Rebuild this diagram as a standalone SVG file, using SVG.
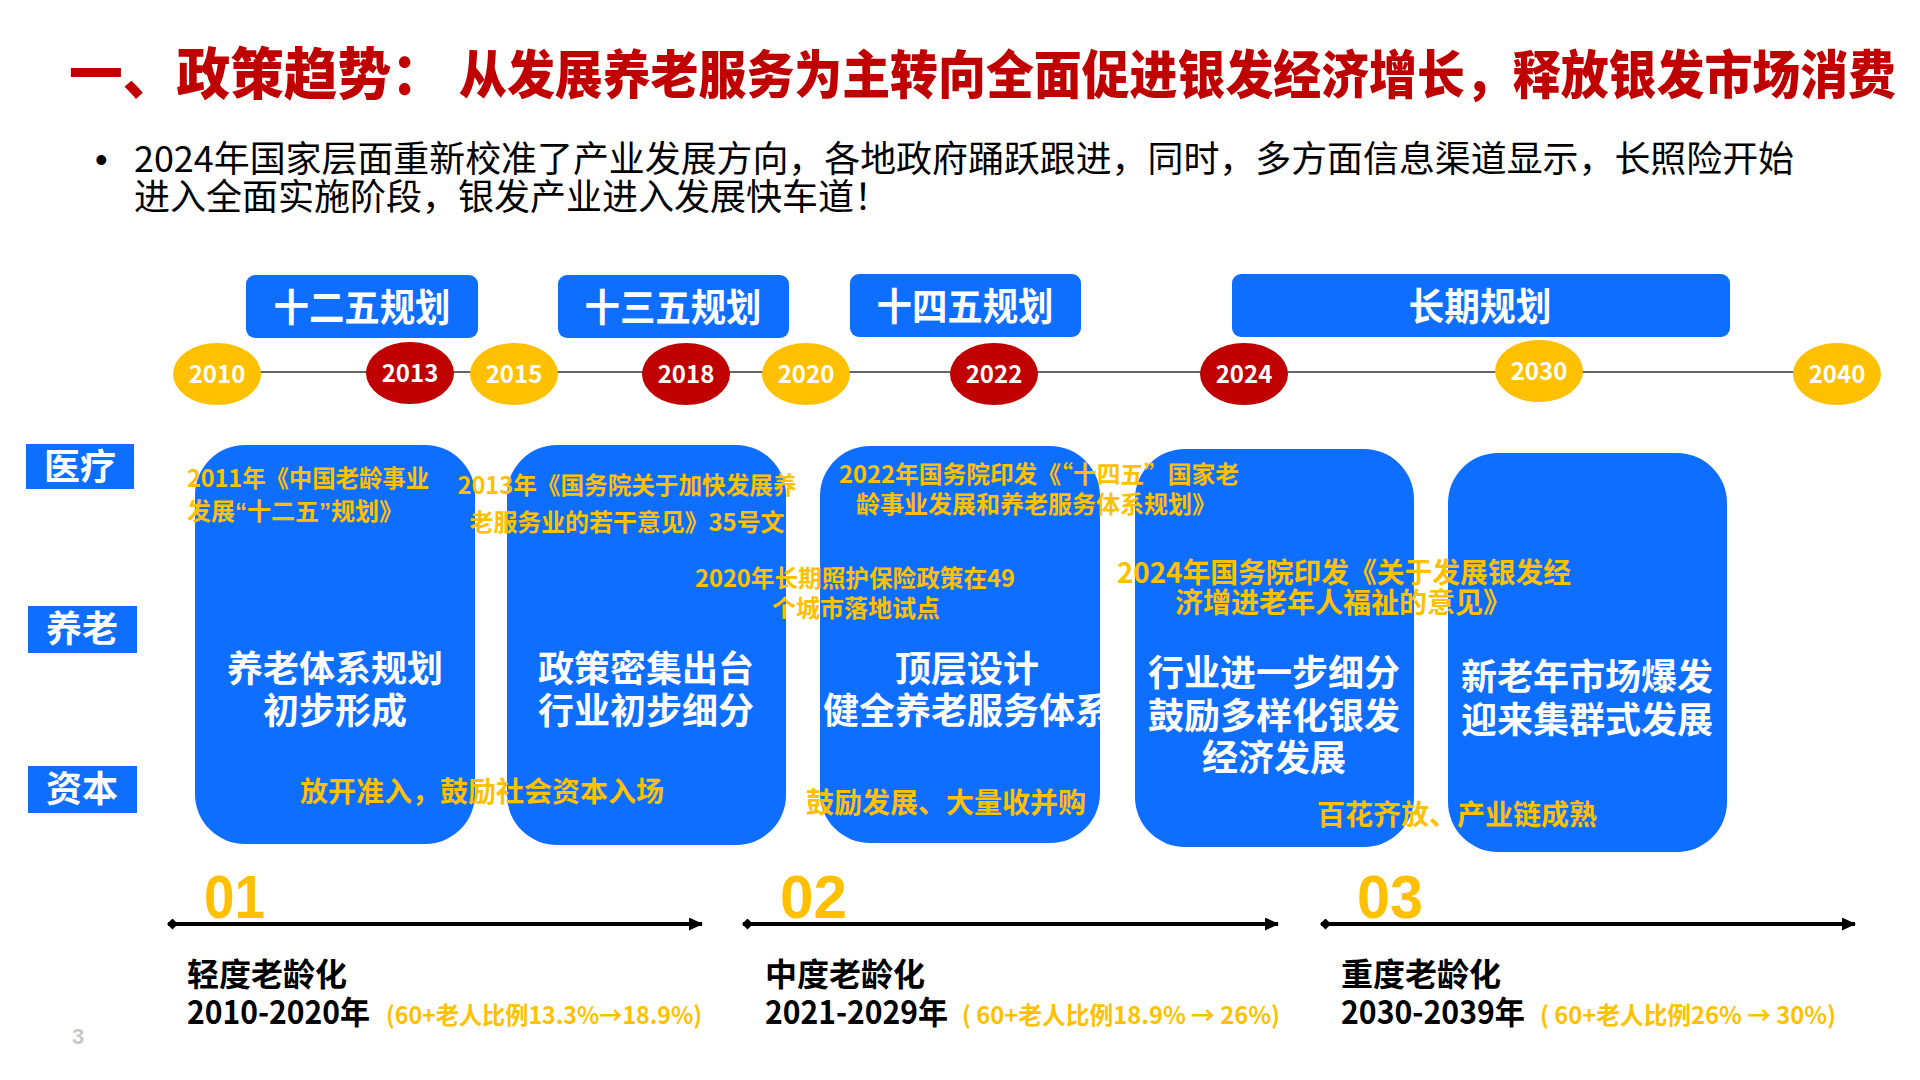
<svg xmlns="http://www.w3.org/2000/svg" width="1920" height="1080" viewBox="0 0 1920 1080">
<defs>
<style>
text { font-family: "Noto Sans CJK SC", "Noto Sans", sans-serif; }
.b { font-weight: 700; }
.w { fill: #ffffff; }
.y { fill: #FFC000; }
.k { fill: #000000; }
.blue { fill: #0E6EFF; }
.c { text-anchor: middle; }
.lat { font-family: "Liberation Sans", Arial, sans-serif; }
.yr { font-size: 24px; font-weight: 700; fill: #ffffff; text-anchor: middle; }
.ann { font-size: 24px; font-weight: 700; fill: #FFC000; }
.ann28 { font-size: 28px; font-weight: 700; fill: #FFC000; }
.big { font-size: 36px; font-weight: 700; fill: #ffffff; text-anchor: middle; }
.plan { font-size: 38px; font-weight: 700; fill: #ffffff; text-anchor: middle; }
.side { font-size: 36px; font-weight: 700; fill: #ffffff; text-anchor: middle; }
.stage { font-size: 32px; font-weight: 700; fill: #000000; }
.pct { font-size: 24px; font-weight: 700; fill: #FFC000; }
.num { font-family: "Liberation Sans", Arial, sans-serif; font-size: 62px; font-weight: 700; fill: #FFC000; }
.tl { stroke: #666666; stroke-width: 2; fill: none; }
.arr { stroke: #000000; stroke-width: 4; fill: none; marker-start: url(#dia); marker-end: url(#tri); }
</style>
<marker id="tri" markerUnits="userSpaceOnUse" viewBox="0 0 14 13" refX="13" refY="6.5" markerWidth="14" markerHeight="13" orient="auto">
<path d="M0,0 L14,6.5 L0,13 Z" fill="#000000"/>
</marker>
<marker id="dia" markerUnits="userSpaceOnUse" viewBox="0 0 11 11" refX="1" refY="5.5" markerWidth="11" markerHeight="11" orient="auto">
<path d="M0,5.5 L5.5,0 L11,5.5 L5.5,11 Z" fill="#000000"/>
</marker>
</defs>
<rect x="0" y="0" width="1920" height="1080" fill="#ffffff"/>

<g id="title">
<text x="69" y="94" font-size="56" font-weight="900" fill="#C00000" textLength="376" lengthAdjust="spacingAndGlyphs">一、政策趋势：</text>
<text x="459" y="94" font-size="52" font-weight="900" fill="#C00000" textLength="1437" lengthAdjust="spacingAndGlyphs">从发展养老服务为主转向全面促进银发经济增长，释放银发市场消费</text>
</g>

<g id="intro">
<text x="95" y="172" font-size="36" fill="#000000" class="lat">•</text>
<text x="134" y="172" font-size="36" fill="#000000" textLength="1660" lengthAdjust="spacingAndGlyphs">2024年国家层面重新校准了产业发展方向，各地政府踊跃跟进，同时，多方面信息渠道显示，长照险开始</text>
<text x="134" y="210" font-size="36" fill="#000000">进入全面实施阶段，银发产业进入发展快车道！</text>
</g>

<g id="connectors">
<line class="tl" x1="217" y1="372" x2="1837" y2="372"/>
<line class="arr" x1="168" y1="924" x2="702" y2="924"/>
<line class="arr" x1="743" y1="924" x2="1278" y2="924"/>
<line class="arr" x1="1321" y1="924" x2="1855" y2="924"/>
</g>

<g id="plan-125">
<rect class="blue" x="246" y="275" width="232" height="63" rx="9"/>
<text class="plan" x="362" y="321" textLength="177" lengthAdjust="spacingAndGlyphs">十二五规划</text>
</g>
<g id="plan-135">
<rect class="blue" x="558" y="275" width="231" height="63" rx="9"/>
<text class="plan" x="673" y="321" textLength="177" lengthAdjust="spacingAndGlyphs">十三五规划</text>
</g>
<g id="plan-145">
<rect class="blue" x="850" y="274" width="231" height="63" rx="9"/>
<text class="plan" x="965" y="320" textLength="177" lengthAdjust="spacingAndGlyphs">十四五规划</text>
</g>
<g id="plan-long">
<rect class="blue" x="1232" y="274" width="498" height="63" rx="9"/>
<text class="plan" x="1480" y="320" textLength="143" lengthAdjust="spacingAndGlyphs">长期规划</text>
</g>

<g id="y2010"><ellipse cx="217" cy="374" rx="44" ry="31" fill="#FFC000"/><text class="yr" x="217" y="383">2010</text></g>
<g id="y2013"><ellipse cx="410" cy="373" rx="44" ry="31" fill="#C00000"/><text class="yr" x="410" y="382">2013</text></g>
<g id="y2015"><ellipse cx="514" cy="374" rx="44" ry="31" fill="#FFC000"/><text class="yr" x="514" y="383">2015</text></g>
<g id="y2018"><ellipse cx="686" cy="374" rx="44" ry="31" fill="#C00000"/><text class="yr" x="686" y="383">2018</text></g>
<g id="y2020"><ellipse cx="806" cy="374" rx="44" ry="31" fill="#FFC000"/><text class="yr" x="806" y="383">2020</text></g>
<g id="y2022"><ellipse cx="994" cy="374" rx="44" ry="31" fill="#C00000"/><text class="yr" x="994" y="383">2022</text></g>
<g id="y2024"><ellipse cx="1244" cy="374" rx="44" ry="31" fill="#C00000"/><text class="yr" x="1244" y="383">2024</text></g>
<g id="y2030"><ellipse cx="1539" cy="371" rx="44" ry="31" fill="#FFC000"/><text class="yr" x="1539" y="380">2030</text></g>
<g id="y2040"><ellipse cx="1837" cy="374" rx="44" ry="31" fill="#FFC000"/><text class="yr" x="1837" y="383">2040</text></g>

<g id="label-medical">
<rect class="blue" x="26" y="444" width="108" height="45"/>
<text class="side" x="80" y="480">医疗</text>
</g>
<g id="label-elderly">
<rect class="blue" x="28" y="606" width="109" height="47"/>
<text class="side" x="82" y="642">养老</text>
</g>
<g id="label-capital">
<rect class="blue" x="28" y="766" width="109" height="47"/>
<text class="side" x="82" y="802">资本</text>
</g>

<g id="stage1">
<rect class="blue" x="195" y="445" width="280" height="399" rx="50"/>
<text class="big" x="335" y="682">养老体系规划</text>
<text class="big" x="335" y="724">初步形成</text>
</g>
<g id="stage2">
<rect class="blue" x="507" y="445" width="279" height="400" rx="50"/>
<text class="big" x="646" y="682">政策密集出台</text>
<text class="big" x="646" y="724">行业初步细分</text>
</g>
<g id="stage3">
<rect class="blue" x="820" y="446" width="280" height="397" rx="50"/>
<text class="big" x="967" y="682">顶层设计</text>
<text class="big" x="967" y="724">健全养老服务体系</text>
</g>
<g id="stage4">
<rect class="blue" x="1135" y="449" width="279" height="398" rx="50"/>
<text class="big" x="1274" y="686">行业进一步细分</text>
<text class="big" x="1274" y="729">鼓励多样化银发</text>
<text class="big" x="1274" y="771">经济发展</text>
</g>
<g id="stage5">
<rect class="blue" x="1448" y="453" width="279" height="399" rx="50"/>
<text class="big" x="1587" y="690">新老年市场爆发</text>
<text class="big" x="1587" y="733">迎来集群式发展</text>
</g>

<g id="policy-2011">
<text class="ann" x="187" y="487" textLength="242" lengthAdjust="spacingAndGlyphs">2011年《中国老龄事业</text>
<text class="ann" x="187" y="520">发展<tspan class="lat">“</tspan>十二五<tspan class="lat">”</tspan>规划》</text>
</g>
<g id="policy-2013">
<text class="ann c" x="627" y="494" textLength="339" lengthAdjust="spacingAndGlyphs">2013年《国务院关于加快发展养</text>
<text class="ann c" x="627" y="531" textLength="315" lengthAdjust="spacingAndGlyphs">老服务业的若干意见》35号文</text>
</g>
<g id="policy-2020">
<text class="ann c" x="855" y="587" textLength="320" lengthAdjust="spacingAndGlyphs">2020年长期照护保险政策在49</text>
<text class="ann c" x="856" y="617">个城市落地试点</text>
</g>
<g id="policy-2022">
<text class="ann c" x="1039" y="483" textLength="400" lengthAdjust="spacingAndGlyphs">2022年国务院印发《“十四五”国家老</text>
<text class="ann c" x="1036" y="513">龄事业发展和养老服务体系规划》</text>
</g>
<g id="policy-2024">
<text class="ann28 c" x="1344" y="583" textLength="454" lengthAdjust="spacingAndGlyphs">2024年国务院印发《关于发展银发经</text>
<text class="ann28 c" x="1343" y="613">济增进老年人福祉的意见》</text>
</g>

<g id="capital-1">
<text class="ann28 c" x="482" y="802">放开准入，鼓励社会资本入场</text>
</g>
<g id="capital-2">
<text class="ann28 c" x="946" y="813">鼓励发展、大量收并购</text>
</g>
<g id="capital-3">
<text class="ann28 c" x="1457" y="825">百花齐放、产业链成熟</text>
</g>

<g id="phase-01">
<text class="num" x="204" y="918" textLength="61" lengthAdjust="spacingAndGlyphs">01</text>
<text class="stage" x="187" y="986">轻度老龄化</text>
<text class="stage" x="187" y="1024" textLength="183" lengthAdjust="spacingAndGlyphs">2010-2020年</text>
<text class="pct" x="386" y="1024" textLength="316" lengthAdjust="spacingAndGlyphs">(60+老人比例13.3%→18.9%)</text>
</g>
<g id="phase-02">
<text class="num" x="780" y="918" textLength="67" lengthAdjust="spacingAndGlyphs">02</text>
<text class="stage" x="765" y="986">中度老龄化</text>
<text class="stage" x="765" y="1024" textLength="183" lengthAdjust="spacingAndGlyphs">2021-2029年</text>
<text class="pct" x="962" y="1024" textLength="318" lengthAdjust="spacingAndGlyphs">( 60+老人比例18.9% → 26%)</text>
</g>
<g id="phase-03">
<text class="num" x="1357" y="918" textLength="66" lengthAdjust="spacingAndGlyphs">03</text>
<text class="stage" x="1341" y="986">重度老龄化</text>
<text class="stage" x="1341" y="1024" textLength="184" lengthAdjust="spacingAndGlyphs">2030-2039年</text>
<text class="pct" x="1540" y="1024" textLength="296" lengthAdjust="spacingAndGlyphs">( 60+老人比例26% → 30%)</text>
</g>

<g id="page-number">
<text x="72" y="1044" font-size="22" font-weight="700" fill="#C8C8C8" class="lat">3</text>
</g>
</svg>
